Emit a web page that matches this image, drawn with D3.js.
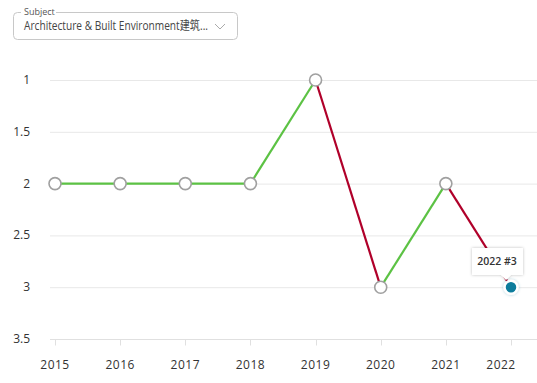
<!DOCTYPE html>
<html><head><meta charset="utf-8">
<script src="https://cdn.jsdelivr.net/npm/d3@7"></script>
<style>
body{margin:0;background:#fff;font-family:"Open Sans","Noto Sans",sans-serif;}
</style></head>
<body><svg id="c" width="537" height="383"></svg>
<script>
const years = ["2015","2016","2017","2018","2019","2020","2021","2022"];
const ranks = [2,2,2,2,1,3,2,3];
const yTicks = [1,1.5,2,2.5,3,3.5];
const subjectLabel = "Subject";
const subjectValue = "Architecture & Built Environment建筑...";
const tooltipText = "2022 #3";

const svg = d3.select("#c");
const font = '"Segoe UI","Open Sans","Noto Sans CJK SC",sans-serif';

// dropdown
svg.append("rect").attr("x",13.5).attr("y",12.5).attr("width",224).attr("height",27).attr("rx",4)
  .attr("fill","#fff").attr("stroke","#c8c8c8");
svg.append("rect").attr("x",21).attr("y",7).attr("width",35).attr("height",10).attr("fill","#fff");
svg.append("text").attr("x",24).attr("y",15).attr("font-size",9).attr("fill","#555").attr("font-family",font).text(subjectLabel);
svg.append("text").attr("x",24).attr("y",30).attr("font-size",12).attr("fill","#444").attr("font-family",font)
  .attr("textLength",184).attr("lengthAdjust","spacingAndGlyphs").text(subjectValue);
svg.append("path").attr("d","M215,24 L220,29 L225,24").attr("fill","none").attr("stroke","#aaa").attr("stroke-width",1);

const x = d3.scalePoint().domain(years).range([55,511]);
const y = d3.scaleLinear().domain([1,3.5]).range([80,339]);

// gridlines
svg.append("g").selectAll("line").data(yTicks).join("line")
  .attr("x1",50).attr("x2",537).attr("y1",d=>y(d)+0.5).attr("y2",d=>y(d)+0.5)
  .attr("stroke","#e8e8e8");
svg.append("g").selectAll("text").data(yTicks).join("text")
  .attr("x",30).attr("y",d=>y(d)+4).attr("text-anchor","end")
  .attr("font-size",12).attr("fill","#333").attr("font-family",font).text(d=>d);

// x axis
const xa = svg.append("g").attr("transform","translate(0,339.5)");
xa.append("line").attr("x1",50).attr("x2",537).attr("stroke","#e0e0e0");
xa.selectAll("line.t").data(years).join("line").attr("class","t")
  .attr("x1",d=>Math.round(x(d))+0.5).attr("x2",d=>Math.round(x(d))+0.5).attr("y1",0).attr("y2",6).attr("stroke","#e0e0e0");
xa.selectAll("text").data(years).join("text")
  .attr("x",(d,i)=>i===years.length-1 ? x(d)-10 : x(d)).attr("y",29).attr("text-anchor","middle")
  .attr("font-size",12).attr("fill","#333").attr("font-family",font).attr("letter-spacing",0.5).text(d=>d);

// segments
const segs = d3.pairs(years.map((yr,i)=>({yr,v:ranks[i]})));
svg.append("g").selectAll("line").data(segs).join("line")
  .attr("x1",d=>x(d[0].yr)).attr("y1",d=>y(d[0].v))
  .attr("x2",d=>x(d[1].yr)).attr("y2",d=>y(d[1].v))
  .attr("stroke",d=>d[1].v>d[0].v ? "#b0002a" : "#5cc244")
  .attr("stroke-width",2.2);

// markers
const pts = years.map((yr,i)=>({yr,v:ranks[i],last:i===years.length-1}));
svg.append("g").selectAll("circle").data(pts.filter(p=>!p.last)).join("circle")
  .attr("cx",d=>x(d.yr)).attr("cy",d=>y(d.v)).attr("r",6)
  .attr("fill","#fff").attr("stroke","#a0a0a0").attr("stroke-width",1.6);

const defs = svg.append("defs");
const f = defs.append("filter").attr("id","sh").attr("x","-50%").attr("y","-50%").attr("width","200%").attr("height","200%");
f.append("feDropShadow").attr("dx",0).attr("dy",0).attr("stdDeviation",1.5).attr("flood-color","#000").attr("flood-opacity",0.25);
const f2 = defs.append("filter").attr("id","gl").attr("x","-100%").attr("y","-100%").attr("width","300%").attr("height","300%");
f2.append("feDropShadow").attr("dx",0).attr("dy",0).attr("stdDeviation",1.8).attr("flood-color","#0a7b9c").attr("flood-opacity",0.35);

const lp = pts[pts.length-1];
svg.append("circle").attr("cx",x(lp.yr)).attr("cy",y(lp.v)).attr("r",6.5)
  .attr("fill","#0a7b9c").attr("stroke","#fff").attr("stroke-width",2.5).attr("filter","url(#gl)");

// tooltip
const tx = x(lp.yr), ty = y(lp.v);
const tg = svg.append("g");
tg.append("path").attr("d",`M472,248 H523 V275 H${tx} L${tx-5},280 L${tx-10},275 H472 Z`)
  .attr("fill","#fff").attr("filter","url(#sh)");
tg.append("text").attr("x",497).attr("y",265).attr("text-anchor","middle").attr("font-size",10.5)
  .attr("font-weight",600).attr("fill","#333").attr("font-family",font).text(tooltipText);
</script></body></html>
